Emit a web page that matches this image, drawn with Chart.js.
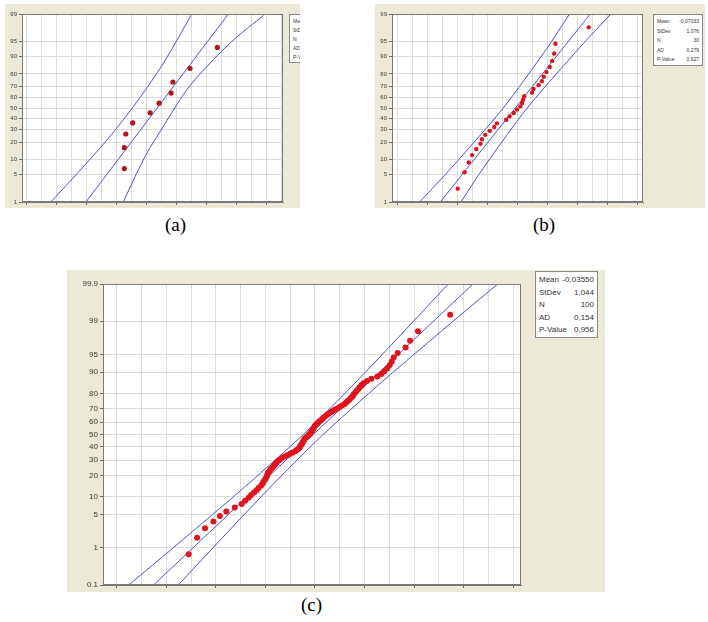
<!DOCTYPE html>
<html><head><meta charset="utf-8">
<script src="https://cdn.jsdelivr.net/npm/chart.js@4/dist/chart.umd.min.js"></script>
<style>
body{margin:0;background:#fff;width:708px;height:622px;position:relative;overflow:hidden;font-family:"Liberation Sans",Arial,sans-serif;}
.panel{position:absolute;background:#ECE9D8;overflow:hidden;}
.panel canvas{position:absolute;left:0;top:0;}
.stats{position:absolute;background:#fff;border:1px solid #8a8a8a;color:#333;box-sizing:border-box;}
.stats .row{display:flex;justify-content:space-between;white-space:nowrap;}
.cap{position:absolute;font-family:"Liberation Serif","Times New Roman",serif;font-size:19px;color:#000;}
</style></head><body>

<div class="panel" id="pa" style="left:5px;top:4px;width:295px;height:204px;"><canvas id="ca" width="295" height="204"></canvas></div>
<div class="panel" id="pb" style="left:375px;top:4px;width:330px;height:204px;"><canvas id="cb" width="330" height="204"></canvas></div>
<div class="panel" id="pc" style="left:67px;top:270px;width:538px;height:322px;"><canvas id="cc" width="538" height="322"></canvas></div>

<div class="cap" style="left:165px;top:214px;">(a)</div>
<div class="cap" style="left:533px;top:214px;">(b)</div>
<div class="cap" style="left:301px;top:594px;">(c)</div>

<script>
// ---------- tick labels (percent) ----------
const pctTicksAB = [1,5,10,20,30,40,50,60,70,80,90,95,99];
const pctTicksC  = [0.1,1,5,10,20,30,40,50,60,70,80,90,95,99,99.9];

// ---------- panel (a) ----------
const aX   = [-0.75,-0.75,-0.70,-0.47,0.11,0.41,0.81,0.87,1.44,2.35];
const aPct = [6.7,16.3,26.0,35.6,45.2,54.8,64.4,74.0,83.7,93.3];
const aFitX = [-2.03,2.72], aFitPct = [1,99];
const aLoX = [-3.20,-2.16,-1.42,-0.92,-0.45,0.07,0.62,1.07,1.47];
const aLoPct = [1.0,6.8,19.2,33.7,51.3,71.6,88.3,96.1,98.9];
const aHiX = [-0.78,-0.39,0.00,0.44,0.89,1.33,2.00,2.89,3.89];
const aHiPct = [1.0,4.5,13.1,27.9,48.0,67.3,84.7,95.4,98.9];
const aStatLabels = ["Mean","StDev","N","AD","P-Value"];
const aStatValues = ["0,3440","1,018","10","0,491","0,173"];

// ---------- panel (b) ----------
const bX = [-1.99,-1.76,-1.62,-1.51,-1.37,-1.23,-1.18,-1.07,-0.92,-0.77,-0.68,-0.37,-0.26,-0.12,-0.01,0.10,0.16,0.19,0.23,0.49,0.54,0.71,0.82,0.88,0.97,1.08,1.16,1.23,1.27,2.38];
const bPct = [2.3,5.6,8.9,12.2,15.5,18.8,22.0,25.3,28.6,31.9,35.2,38.5,41.8,45.1,48.4,51.6,54.9,58.2,61.5,64.8,68.1,71.4,74.7,78.0,81.3,84.5,87.8,91.1,94.4,97.7];
const bFitX = [-2.57,2.43], bFitPct = [1,99];
const bBandPct = [1,5,10,25,50,75,90,95,99];
const bLoX = [-3.26,-2.40,-1.96,-1.24,-0.47,0.21,0.80,1.14,1.74];
const bHiX = [-1.88,-1.28,-0.94,-0.355,0.33,1.10,1.82,2.26,3.12];
const bStatLabels = ["Mean","StDev","N","AD","P-Value"];
const bStatValues = ["-0,07033","1,076","30","0,279","0,627"];

// ---------- panel (c) ----------
const cX = [-2.55,-2.38,-2.22,-2.05,-1.92,-1.79,-1.62,-1.48,-1.41,-1.34,
            -1.29,-1.23,-1.18,-1.14,-1.09,-1.06,-1.04,-1.01,-0.99,-0.97,
            -0.96,-0.95,-0.92,-0.90,-0.87,-0.84,-0.82,-0.79,-0.77,-0.73,
            -0.70,-0.66,-0.61,-0.55,-0.50,-0.45,-0.40,-0.37,-0.33,-0.31,
            -0.30,-0.28,-0.26,-0.25,-0.24,-0.22,-0.21,-0.18,-0.15,-0.13,
            -0.10,-0.09,-0.07,-0.05,-0.04,-0.02,-0.01,0.01,0.04,0.06,
            0.09,0.12,0.15,0.17,0.20,0.23,0.27,0.31,0.35,0.40,
            0.45,0.50,0.55,0.60,0.63,0.66,0.70,0.73,0.76,0.78,
            0.81,0.84,0.87,0.90,0.94,0.98,1.05,1.14,1.26,1.34,
            1.40,1.46,1.51,1.55,1.59,1.67,1.83,1.92,2.08,2.73];
const cPct = [0.7,1.7,2.7,3.7,4.7,5.7,6.7,7.7,8.7,9.7,
              10.7,11.7,12.6,13.6,14.6,15.6,16.6,17.6,18.6,19.6,
              20.6,21.6,22.6,23.6,24.6,25.6,26.6,27.6,28.6,29.6,
              30.6,31.6,32.6,33.6,34.6,35.6,36.6,37.6,38.5,39.5,
              40.5,41.5,42.5,43.5,44.5,45.5,46.5,47.5,48.5,49.5,
              50.5,51.5,52.5,53.5,54.5,55.5,56.5,57.5,58.5,59.5,
              60.5,61.5,62.4,63.4,64.4,65.4,66.4,67.4,68.4,69.4,
              70.4,71.4,72.4,73.4,74.4,75.4,76.4,77.4,78.4,79.4,
              80.4,81.4,82.4,83.4,84.4,85.4,86.4,87.4,88.3,89.3,
              90.3,91.3,92.3,93.3,94.3,95.3,96.3,97.3,98.3,99.3];
const cFitX = [-3.26,3.19], cFitPct = [0.1,99.9];
const cBandPct = [0.1,1,5,10,25,50,75,90,95,99,99.9];
const cLoX = [-3.76,-2.86,-2.07,-1.65,-0.97,-0.235,0.44,1.02,1.36,1.99,2.69];
const cHiX = [-2.76,-2.06,-1.43,-1.09,-0.51,0.165,0.90,1.58,2.00,2.79,3.69];
const cStatLabels = ["Mean","StDev","N","AD","P-Value"];
const cStatValues = ["-0,03550","1,044","100","0,154","0,956"];

// ---------- normal probability scale ----------
function probit(p){
  const a=[-3.969683028665376e+01,2.209460984245205e+02,-2.759285104469687e+02,1.383577518672690e+02,-3.066479806614716e+01,2.506628277459239e+00];
  const b=[-5.447609879822406e+01,1.615858368580409e+02,-1.556989798598866e+02,6.680131188771972e+01,-1.328068155288572e+01];
  const c=[-7.784894002430293e-03,-3.223964580411365e-01,-2.400758277161838e+00,-2.549732539343734e+00,4.374664141464968e+00,2.938163982698783e+00];
  const d=[7.784695709041462e-03,3.224671290700398e-01,2.445134137142996e+00,3.754408661907416e+00];
  const pl=0.02425, ph=1-pl; let q,r;
  if(p<pl){q=Math.sqrt(-2*Math.log(p));return (((((c[0]*q+c[1])*q+c[2])*q+c[3])*q+c[4])*q+c[5])/((((d[0]*q+d[1])*q+d[2])*q+d[3])*q+1);}
  if(p<=ph){q=p-0.5;r=q*q;return (((((a[0]*r+a[1])*r+a[2])*r+a[3])*r+a[4])*r+a[5])*q/(((((b[0]*r+b[1])*r+b[2])*r+b[3])*r+b[4])*r+1);}
  q=Math.sqrt(-2*Math.log(1-p));return -(((((c[0]*q+c[1])*q+c[2])*q+c[3])*q+c[4])*q+c[5])/((((d[0]*q+d[1])*q+d[2])*q+d[3])*q+1);
}
function ncdf(z){const t=1/(1+0.2316419*Math.abs(z));const y=t*(0.319381530+t*(-0.356563782+t*(1.781477937+t*(-1.821255978+t*1.330274429))));const v=1-Math.exp(-z*z/2)/Math.sqrt(2*Math.PI)*y;return z>=0?v:1-v;}

class ProbitScale extends Chart.LinearScale {
  determineDataLimits(){ this.min = this.options.min; this.max = this.options.max; }
  buildTicks(){ return (this.options.tickValues || []).map(v => ({value: v})); }
  getPixelForValue(v){
    const z0 = probit(this.min/100), z1 = probit(this.max/100);
    return this.getPixelForDecimal((probit(v/100) - z0) / (z1 - z0));
  }
  getValueForPixel(px){
    const z0 = probit(this.min/100), z1 = probit(this.max/100);
    return 100 * ncdf(z0 + this.getDecimalForPixel(px) * (z1 - z0));
  }
}
ProbitScale.id = 'probit';
ProbitScale.defaults = {};
Chart.register(ProbitScale);

function pairs(xs, ps){ return xs.map((x,i) => ({x: x, y: ps[i]})); }

const framePlugin = {
  id: 'frame',
  beforeDraw(chart){
    const {ctx, chartArea: a} = chart;
    ctx.save(); ctx.fillStyle = '#ffffff';
    ctx.fillRect(a.left, a.top, a.right - a.left, a.bottom - a.top); ctx.restore();
  },
  afterDraw(chart){
    const {ctx, chartArea: a} = chart;
    ctx.save(); ctx.strokeStyle = '#7a7a7a'; ctx.lineWidth = 1;
    ctx.strokeRect(Math.round(a.left)+0.5, Math.round(a.top)+0.5, Math.round(a.right-a.left)-1, Math.round(a.bottom-a.top)-1);
    ctx.restore();
  }
};

function makeChart(id, o){
  const lineColor = '#4c58c4';
  return new Chart(document.getElementById(id), {
    type: 'scatter',
    data: { datasets: [
      {data: pairs(o.x, o.p), pointRadius: o.ptR, pointBackgroundColor: o.ptColor, pointBorderColor: o.ptColor, pointBorderWidth: 0, showLine: false},
      {data: pairs(o.fitX, o.fitP), showLine: true, pointRadius: 0, borderColor: lineColor, borderWidth: 1},
      {data: pairs(o.loX, o.bandP1), showLine: true, pointRadius: 0, borderColor: lineColor, borderWidth: 1, cubicInterpolationMode: 'monotone'},
      {data: pairs(o.hiX, o.bandP2), showLine: true, pointRadius: 0, borderColor: lineColor, borderWidth: 1, cubicInterpolationMode: 'monotone'}
    ]},
    options: {
      responsive: false, animation: false, devicePixelRatio: 1,
      layout: {padding: {top: o.padTop, right: o.padRight, left: 0, bottom: 0}},
      plugins: {legend: {display: false}, tooltip: {enabled: false}},
      scales: {
        x: {
          type: 'linear', min: o.xMin, max: o.xMax,
          afterBuildTicks: s => { const t = []; for (let v = Math.ceil(s.min*2)/2; v <= s.max + 1e-9; v += 0.5) t.push({value: Math.round(v*2)/2}); s.ticks = t; },
          afterFit: s => { s.height = o.xH; },
          ticks: {display: false},
          grid: {color: '#dcdcdc', lineWidth: 1, drawTicks: true, tickLength: 3,
                 tickColor: c => Number.isInteger(c.tick.value) ? '#6a6a6a' : 'rgba(0,0,0,0)'},
          border: {display: true, color: '#7a7a7a'}
        },
        y: {
          type: 'probit', min: o.yMin, max: o.yMax, tickValues: o.yTicks,
          afterFit: s => { s.width = o.yW; },
          ticks: {autoSkip: false, padding: 2, color: '#3a3a3a', font: {family: 'Liberation Sans', size: o.fs}, callback: v => String(v)},
          grid: {color: '#dcdcdc', lineWidth: 1, drawTicks: true, tickLength: 3, tickColor: '#6a6a6a'},
          border: {display: true, color: '#7a7a7a'}
        }
      }
    },
    plugins: [framePlugin]
  });
}

makeChart('ca', {x: aX, p: aPct, fitX: aFitX, fitP: aFitPct, loX: aLoX, bandP1: aLoPct, hiX: aHiX, bandP2: aHiPct,
  xMin: -4.16, xMax: 4.54, yMin: 1, yMax: 99, yTicks: pctTicksAB, yW: 17, xH: 6, padTop: 10, padRight: 17,
  ptR: 2.6, ptColor: '#b3151a', fs: 6});
makeChart('cb', {x: bX, p: bPct, fitX: bFitX, fitP: bFitPct, loX: bLoX, bandP1: bBandPct, hiX: bHiX, bandP2: bBandPct,
  xMin: -4.18, xMax: 4.19, yMin: 1, yMax: 99, yTicks: pctTicksAB, yW: 17, xH: 6, padTop: 10, padRight: 62,
  ptR: 2.2, ptColor: '#d8141c', fs: 6});
makeChart('cc', {x: cX, p: cPct, fitX: cFitX, fitP: cFitPct, loX: cLoX, bandP1: cBandPct, hiX: cHiX, bandP2: cBandPct,
  xMin: -4.28, xMax: 4.16, yMin: 0.1, yMax: 99.9, yTicks: pctTicksC, yW: 36, xH: 7, padTop: 14, padRight: 84,
  ptR: 3, ptColor: '#e0141c', fs: 8});

// ---------- stats boxes ----------
function statBox(panelId, labels, values, css, fs, lh){
  const box = document.createElement('div');
  box.className = 'stats';
  Object.assign(box.style, css, {fontSize: fs + 'px', lineHeight: lh + 'px', padding: '2px 3px'});
  labels.forEach((l, i) => {
    const r = document.createElement('div'); r.className = 'row';
    const a = document.createElement('span'); a.textContent = l;
    const b = document.createElement('span'); b.textContent = values[i];
    r.appendChild(a); r.appendChild(b); box.appendChild(r);
  });
  document.getElementById(panelId).appendChild(box);
}
statBox('pa', aStatLabels, aStatValues, {left: '284px', top: '10px', width: '48px', height: '49px'}, 5, 9);
statBox('pb', bStatLabels, bStatValues, {left: '278px', top: '10px', width: '50px', height: '52px'}, 5, 9.5);
statBox('pc', cStatLabels, cStatValues, {left: '468px', top: '1px', width: '63px', height: '67px'}, 8, 12.5);
</script>
</body></html>
